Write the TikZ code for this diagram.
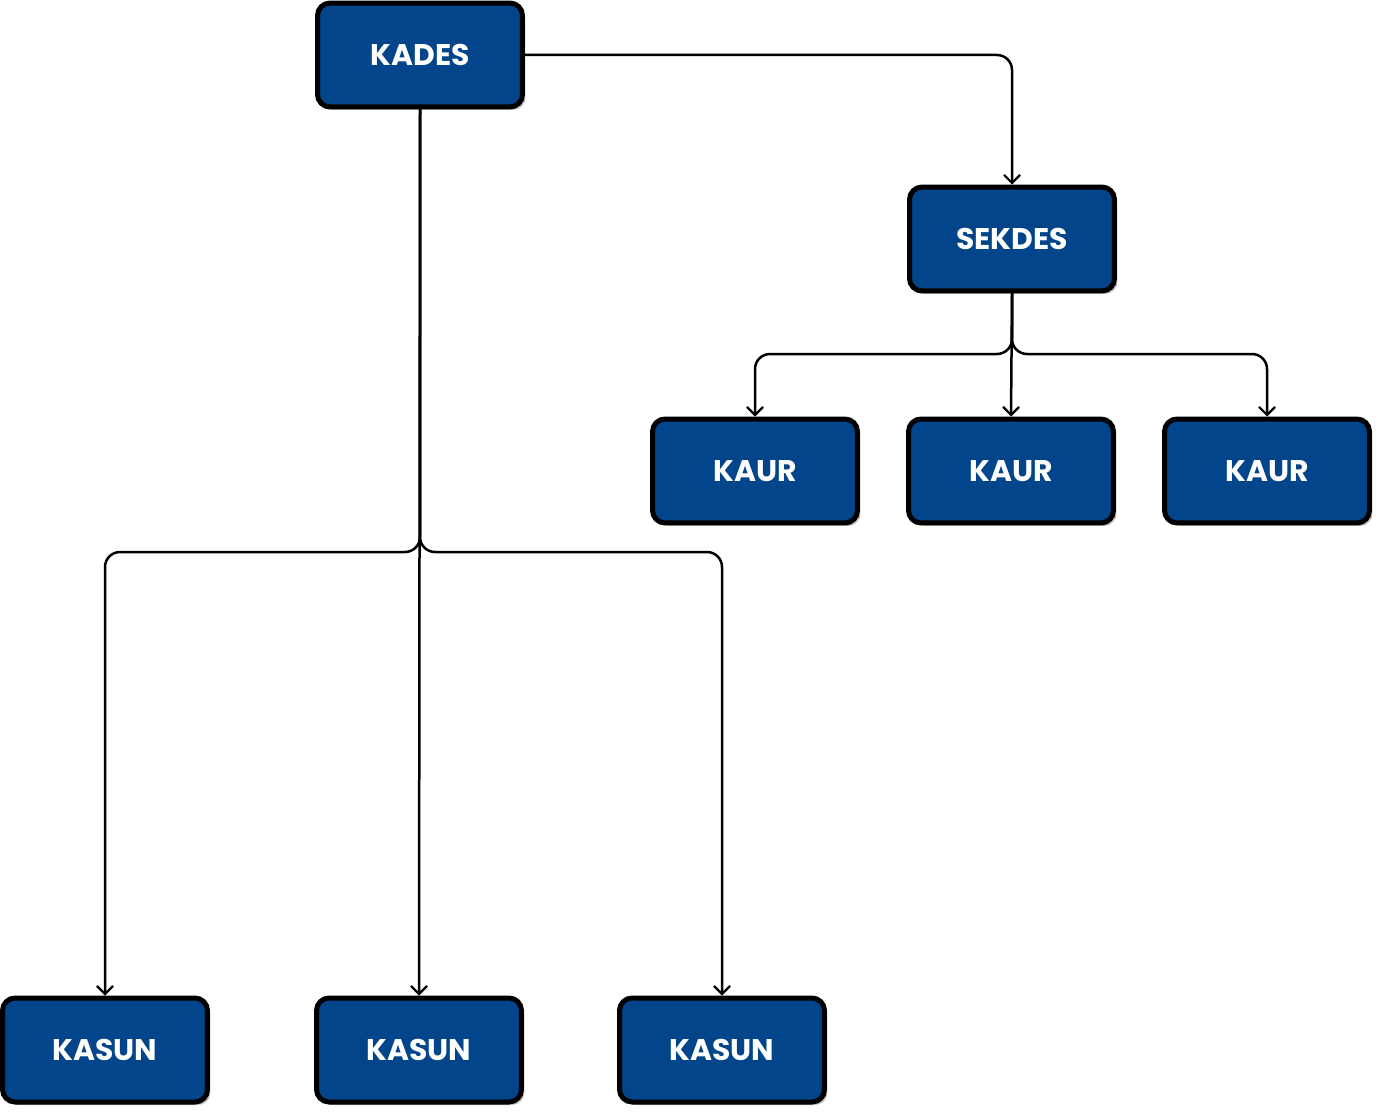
\documentclass[tikz,border=0pt]{standalone}
\usepackage{fontspec}
\setmainfont{Poppins}
\usetikzlibrary{arrows.meta,shadows}

\definecolor{boxblue}{RGB}{3,69,138}

\tikzset{
	unit/.style={draw=black, line width=0.1cm, fill=boxblue, rounded corners=0.25cm, minimum width=4.1cm, minimum height=2.08cm, text=white, font=\fontsize{17}{20}\selectfont\bfseries, drop shadow={shadow xshift=0.06cm, shadow yshift=-0.06cm, opacity=0.25, fill=black}},
	link/.style={line width=0.05cm, rounded corners=0.3cm, -{Straight Barb[width=0.32cm,length=0.16cm,line width=0.045cm]}}
}

\begin{document}
\begin{tikzpicture}[x=0.02cm, y=-0.02cm]
				\useasboundingbox (0,0) rectangle (1382,1115);

				% Head and secretary
				\node[unit] (kades) at (420,55) {KADES};
				\node[unit] (sekdes) at (1012,239) {SEKDES};

				% Heads of affairs
				\node[unit] (kaur1) at (755,471) {KAUR};
				\node[unit] (kaur2) at (1011,471) {KAUR};
				\node[unit] (kaur3) at (1267,471) {KAUR};

				% Heads of hamlets
				\node[unit] (kasun1) at (105,1050) {KASUN};
				\node[unit] (kasun2) at (419,1050) {KASUN};
				\node[unit] (kasun3) at (722,1050) {KASUN};

				% Links
				\draw[link] (kades.east) -| (sekdes.north);
				\draw[link] (sekdes.south) |- (883,354) -| (kaur1.north);
				\draw[link] (sekdes.south) -- (kaur2.north);
				\draw[link] (sekdes.south) |- (1140,354) -| (kaur3.north);
				\draw[link] (kades.south) |- (260,552) -| (kasun1.north);
				\draw[link] (kades.south) -- (kasun2.north);
				\draw[link] (kades.south) |- (570,552) -| (kasun3.north);
			\end{tikzpicture}
\end{document}
